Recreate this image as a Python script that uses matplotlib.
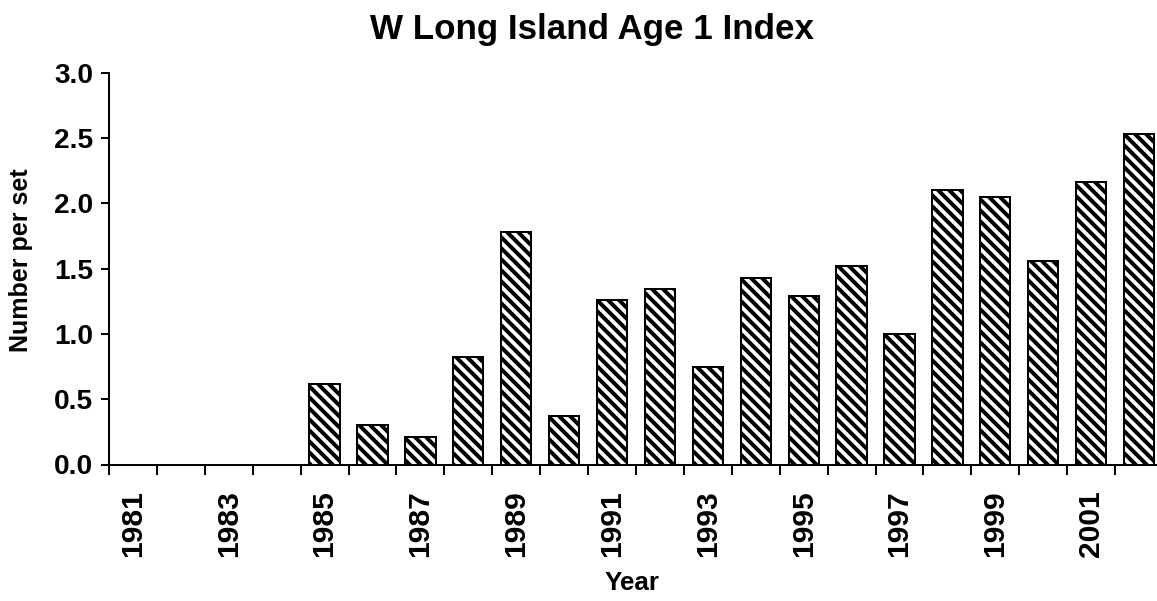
#!/usr/bin/env python3
"""
W Long Island Age 1 Index - hatched bar chart
"""

import numpy as np
import matplotlib
matplotlib.use('Agg')
import matplotlib.pyplot as plt

# Data
years = list(range(1981, 2003))
index_values = [0.0, 0.0, 0.0, 0.0, 0.62, 0.30, 0.21, 0.82, 1.78, 0.37,
                1.26, 1.34, 0.75, 1.43, 1.29, 1.52, 1.00, 2.10, 2.05, 1.56,
                2.16, 2.53]
label_years = years[::2]

DPI = 66
W, H = 1157, 601


def px(p):
    """pixels -> points at the figure dpi"""
    return p * 72.0 / DPI


def create_plot():
    plt.rcParams['font.family'] = ['Liberation Sans', 'DejaVu Sans']
    plt.rcParams['font.weight'] = 'bold'
    plt.rcParams['hatch.linewidth'] = px(4)

    fig = plt.figure(figsize=(W / DPI, H / DPI), dpi=DPI)
    ax = fig.add_axes([109 / W, (H - 464.5) / H, (1163 - 109) / W, (464.5 - 72.7) / H])

    x = np.arange(len(years))
    ax.bar(x, index_values, width=0.63, color='white', edgecolor='black',
           linewidth=px(2), hatch='\\\\')

    ax.set_xlim(-0.5, len(years) - 0.5)
    ax.set_ylim(0, 3.0)
    ax.set_yticks(np.arange(0, 3.01, 0.5))
    ax.set_yticklabels([f'{v:.1f}' for v in np.arange(0, 3.01, 0.5)],
                       fontsize=px(28), fontweight='bold')

    # labels every other year at bar centres, ticks at category borders
    ax.set_xticks(x[::2])
    ax.set_xticklabels([str(y) for y in label_years], rotation=90,
                       fontsize=px(30), fontweight='bold')
    ax.set_xticks(np.arange(-0.5, len(years)), minor=True)
    ax.tick_params(axis='x', which='major', length=0, pad=px(26))
    ax.tick_params(axis='x', which='minor', length=px(10), width=px(2),
                   direction='out')
    ax.tick_params(axis='y', length=px(8), width=px(2), direction='out',
                   pad=px(8))

    for side in ['top', 'right']:
        ax.spines[side].set_visible(False)
    for side in ['left', 'bottom']:
        ax.spines[side].set_linewidth(px(2))

    fig.text(592 / W, 1 - 30 / H, 'W Long Island Age 1 Index', ha='center',
             va='center', fontsize=px(35), fontweight='bold')
    fig.text(21 / W, 1 - 260 / H, 'Number per set', rotation=90, ha='center',
             va='center', fontsize=px(25), fontweight='bold')
    fig.text(632 / W, 1 - 583 / H, 'Year', ha='center', va='center',
             fontsize=px(26), fontweight='bold')
    return fig


def main():
    fig = create_plot()
    fig.savefig('out.png', dpi=DPI)


if __name__ == "__main__":
    main()
